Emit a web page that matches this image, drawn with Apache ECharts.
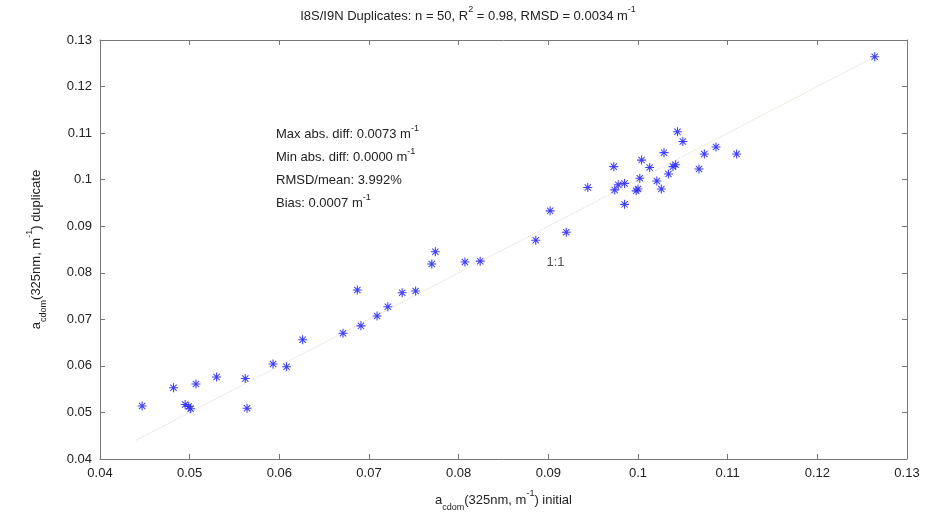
<!DOCTYPE html>
<html>
<head>
<meta charset="utf-8">
<title>I8S/I9N Duplicates</title>
<script src="https://cdn.jsdelivr.net/npm/echarts@6/dist/echarts.min.js"></script>
<style>
  html, body { margin: 0; padding: 0; background: #fff; }
  #chart { width: 936px; height: 520px; }
</style>
</head>
<body>
<div id="chart"></div>
<script>
// a_cdom(325nm) initial vs duplicate
const initialValues = [
  0.0447, 0.0482, 0.0495, 0.0499, 0.0501, 0.0507, 0.0530, 0.0562, 0.0564, 0.0593,
  0.0608, 0.0626, 0.0671, 0.0687, 0.0691, 0.0709, 0.0721, 0.0737, 0.0752, 0.0770,
  0.0774, 0.0807, 0.0824, 0.0886, 0.0902, 0.0920, 0.0944, 0.0973, 0.0974, 0.0978,
  0.0985, 0.0985, 0.0998, 0.1000, 0.1002, 0.1004, 0.1013, 0.1021, 0.1026, 0.1029,
  0.1034, 0.1039, 0.1042, 0.1044, 0.1050, 0.1068, 0.1074, 0.1087, 0.1110, 0.1264
]
const duplicateValues = [
  0.0514, 0.0553, 0.0517, 0.0513, 0.0508, 0.0561, 0.0576, 0.0573, 0.0509, 0.0604,
  0.0598, 0.0656, 0.0670, 0.0763, 0.0686, 0.0707, 0.0727, 0.0757, 0.0761, 0.0819,
  0.0845, 0.0823, 0.0825, 0.0870, 0.0933, 0.0887, 0.0983, 0.1028, 0.0978, 0.0989,
  0.0992, 0.0947, 0.0976, 0.0980, 0.1003, 0.1042, 0.1026, 0.0997, 0.0980, 0.1058,
  0.1012, 0.1028, 0.1032, 0.1103, 0.1082, 0.1023, 0.1055, 0.1070, 0.1055, 0.1264
]
// 1:1 reference line ends and its label position
const oneToOneLine = [[0.0440, 0.0440], [0.1264, 0.1264]]
const oneToOneLabel = [0.0908, 0.0823]

const axisTicks = [0.04, 0.05, 0.06, 0.07, 0.08, 0.09, 0.1, 0.11, 0.12, 0.13]

const statsLines = [
  ['Max abs. diff: 0.0073 m', '-1'],
  ['Min abs. diff: 0.0000 m', '-1'],
  ['RMSD/mean: 3.992%', ' '],
  ['Bias: 0.0007 m', '-1']
]

const FONT = '"Liberation Sans", Arial, sans-serif'
const TEXT = '#222'
const AXIS = '#777'

// MATLAB style '*' marker
const STAR = 'path://M-0.12,-1L0.12,-1L0.12,1L-0.12,1Z M-1,-0.12L1,-0.12L1,0.12L-1,0.12Z ' +
  'M-0.78,-0.62L-0.62,-0.78L0.78,0.62L0.62,0.78Z M0.62,-0.78L0.78,-0.62L-0.62,0.78L-0.78,0.62Z'

const chart = echarts.init(document.getElementById('chart'))

const richCommon = {
  sub: { fontSize: 9, verticalAlign: 'bottom', padding: [0, 0, -5, 0], fontFamily: FONT, color: TEXT },
  sup: { fontSize: 9, verticalAlign: 'top', padding: [-5, 0, 0, 0], fontFamily: FONT, color: TEXT }
}

function baseAxis(showLabels) {
  return {
    type: 'value',
    min: 0.04,
    max: 0.13,
    interval: 0.01,
    axisLine: { show: true, lineStyle: { color: AXIS, width: 1 } },
    axisTick: { show: true, inside: true, length: 5, lineStyle: { color: AXIS } },
    splitLine: { show: false },
    axisLabel: {
      show: showLabels,
      color: TEXT,
      fontFamily: FONT,
      fontSize: 13,
      formatter: v => String(axisTicks.find(t => Math.abs(t - v) < 1e-9) ?? +v.toFixed(2))
    }
  }
}

// one text element per stats line, 23px apart (every line carries a sup part so boxes match)
const statsGraphics = statsLines.map((l, i) => ({
  type: 'text',
  left: 276,
  top: 124 + i * 23,
  style: {
    text: l[0] + '{sup|' + l[1] + '}',
    fontFamily: FONT,
    fontSize: 13,
    fill: TEXT,
    rich: {
      sup: { fontSize: 9, verticalAlign: 'top', padding: [-4, 0, 0, 0], fontFamily: FONT, fill: TEXT }
    }
  }
}))

chart.setOption({
  backgroundColor: '#fff',
  animation: false,
  title: {
    text: 'I8S/I9N Duplicates: n = 50, R{sup|2} = 0.98, RMSD = 0.0034 m{sup|-1}',
    left: 'center',
    top: 5,
    textStyle: { fontFamily: FONT, fontSize: 13, fontWeight: 'normal', color: TEXT, rich: richCommon }
  },
  grid: { left: 100, right: 29, top: 40, bottom: 61 },
  xAxis: [
    Object.assign(baseAxis(true), {
      position: 'bottom',
      name: 'a{sub|cdom}(325nm, m{sup|-1}) initial',
      nameLocation: 'middle',
      nameGap: 35,
      nameTextStyle: { fontFamily: FONT, fontSize: 13, color: TEXT, rich: richCommon }
    }),
    Object.assign(baseAxis(false), { position: 'top' })
  ],
  yAxis: [
    Object.assign(baseAxis(true), {
      position: 'left',
      name: 'a{sub|cdom}(325nm, m{sup|-1}) duplicate',
      nameLocation: 'middle',
      nameGap: 57,
      nameTextStyle: { fontFamily: FONT, fontSize: 13, color: TEXT, rich: richCommon }
    }),
    Object.assign(baseAxis(false), { position: 'right' })
  ],
  series: [
    {
      name: '1:1',
      type: 'line',
      data: oneToOneLine,
      symbol: 'none',
      silent: true,
      lineStyle: { color: '#d8d8c8', width: 1, type: 'dotted' },
      z: 1
    },
    {
      name: '1:1 label',
      type: 'scatter',
      data: [oneToOneLabel],
      symbolSize: 0,
      silent: true,
      label: {
        show: true,
        position: 'inside',
        formatter: '1:1',
        fontFamily: FONT,
        fontSize: 13,
        color: TEXT
      }
    },
    {
      name: 'duplicates',
      type: 'scatter',
      data: initialValues.map((x, i) => [x, duplicateValues[i]]),
      symbol: STAR,
      symbolSize: 9,
      itemStyle: { color: '#2b2bf5', opacity: 0.9 },
      z: 3
    }
  ],
  graphic: statsGraphics
})
</script>
</body>
</html>
